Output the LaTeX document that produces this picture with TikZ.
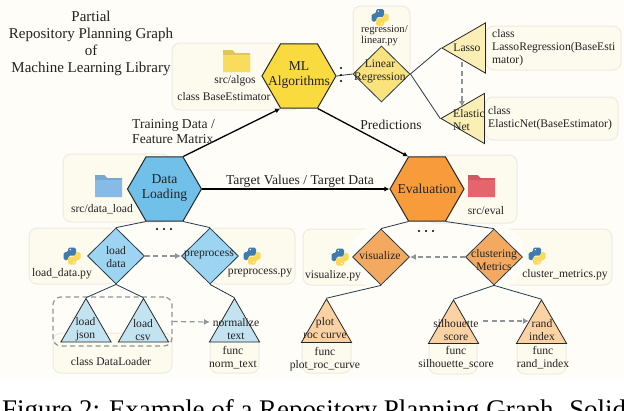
\documentclass[tikz,border=0pt]{standalone}
\usepackage{fontspec}
\setmainfont{Liberation Serif}
\usepackage{xcolor}
\definecolor{pageCream}{HTML}{FFFDF8}
\definecolor{panelFill}{HTML}{FDFAEE}
\definecolor{panelLine}{HTML}{EDEAE2}
\definecolor{edgeDark}{HTML}{24394A}
\definecolor{dashGray}{HTML}{8E9599}
\definecolor{textDark}{HTML}{222222}
\definecolor{hexYellow}{HTML}{F9DB3F}
\definecolor{dmYellow}{HTML}{FAE27C}
\definecolor{triYellow}{HTML}{FBEFB6}
\definecolor{hexBlue}{HTML}{70C0E9}
\definecolor{dmBlue}{HTML}{9DD4F1}
\definecolor{triBlue}{HTML}{C4E3F1}
\definecolor{hexOrange}{HTML}{F89B3A}
\definecolor{dmOrange}{HTML}{F4A960}
\definecolor{triOrange}{HTML}{FBD2A3}
\definecolor{folderYellow}{HTML}{F9DC5C}
\definecolor{folderBlue}{HTML}{85BBE6}
\definecolor{folderRed}{HTML}{E4656C}
\definecolor{pyBlue}{HTML}{3E7BAE}
\definecolor{pyYellow}{HTML}{FBD95A}
\usepackage{tikz}
\usetikzlibrary{arrows.meta,shapes.geometric}
\tikzset{
  panel/.style={draw=panelLine, line width=1pt, fill=panelFill, rounded corners=8pt, inner sep=0pt},
  hexnode/.style={regular polygon, regular polygon sides=6, minimum size=74pt, inner sep=0pt, draw=black!85, line width=1pt},
  dmnode/.style={diamond, minimum width=57pt, minimum height=56pt, inner sep=0pt, draw=edgeDark, line width=.8pt},
  trinode/.style={regular polygon, regular polygon sides=3, minimum size=58pt, inner sep=0pt, draw=black!85, line width=.8pt},
  txt/.style={font=\fontsize{11.6}{13}\selectfont, inner sep=0pt, text=textDark, align=center},
  txtbig/.style={font=\fontsize{13.6}{15}\selectfont, inner sep=0pt, text=textDark, align=center},
  txtsmall/.style={font=\fontsize{10.6}{11}\selectfont, inner sep=0pt, text=textDark, align=left},
  mainarrow/.style={-{Latex[length=5pt,width=5pt]}, line width=1.3pt, black},
  treeedge/.style={line width=.8pt, edgeDark},
  dashedarrow/.style={-{Latex[length=6pt,width=6pt]}, line width=1.2pt, dashGray, dash pattern=on 5pt off 3.5pt},
  pics/folder/.style={code={
    \fill[#1!90!black] (-13.5,-11) -- (-4,-11) -- (-1,-8) -- (13.5,-8) -- (13.5,11) -- (-13.5,11) -- cycle;
    \fill[#1] (-13.5,-6) -- (13.5,-6) -- (13.5,11) -- (-13.5,11) -- cycle;
  }},
  pics/pyicon/.style={code={
    \fill[pyBlue, rounded corners=1.6pt] (-4,-8.5) -- (4,-8.5) -- (4,-.5) -- (-3.5,-.5) -- (-3.5,4) -- (-8.5,4) -- (-8.5,-3.8) -- (-4,-3.8) -- cycle;
    \fill[pyYellow, rounded corners=1.6pt] (4,8.5) -- (-4,8.5) -- (-4,.5) -- (3.5,.5) -- (3.5,-4) -- (8.5,-4) -- (8.5,3.8) -- (4,3.8) -- cycle;
    \fill[white] (-1.8,-6.4) circle (.8pt);
    \fill[white] (1.8,6.4) circle (.8pt);
  }}
}

\begin{document}
\begin{tikzpicture}[x=1pt, y=-1pt]
  \useasboundingbox (0,0) rectangle (624,410);
  \fill[white] (0,0) rectangle (624,410);
  \fill[pageCream] (0,0) rectangle (624,379);

  % Panels
  \node[panel, minimum width=128pt, minimum height=67pt] (pnlAlgos) at (236,76.5) {};
  \node[panel, minimum width=107pt, minimum height=68pt] (pnlLoad) at (116.5,188) {};
  \node[panel, minimum width=90pt, minimum height=68pt] (pnlEval) at (472,189) {};
  \node[panel, minimum width=57pt, minimum height=70pt] (pnlLinear) at (381.5,41) {};
  \node[panel, minimum width=135pt, minimum height=44pt] (pnlLasso) at (553.5,48) {};
  \node[panel, minimum width=133pt, minimum height=43pt] (pnlElastic) at (551.5,118.5) {};
  \node[panel, minimum width=87pt, minimum height=56pt] (pnlLoadData) at (72.5,256) {};
  \node[panel, minimum width=85pt, minimum height=56pt] (pnlPreprocess) at (252.5,256) {};
  \node[panel, minimum width=78pt, minimum height=56pt] (pnlVisualize) at (342,257) {};
  \node[panel, minimum width=118pt, minimum height=56pt] (pnlCluster) at (553,257) {};
  \node[panel, minimum width=119pt, minimum height=40pt] (pnlLoader) at (112.5,353) {};
  \node[panel, minimum width=49pt, minimum height=36pt] (pnlNorm) at (234.5,355) {};
  \node[panel, minimum width=49pt, minimum height=36pt] (pnlRoc) at (326.5,355) {};
  \node[panel, minimum width=48pt, minimum height=36pt] (pnlSil) at (453,356) {};
  \node[panel, minimum width=49pt, minimum height=36pt] (pnlRand) at (541.5,356) {};
  \fill[pageCream] (381,257) circle (32);
  \fill[pageCream] (494,257) circle (32);

  % Hexagons
  \node[hexnode, fill=hexYellow] (hexAlgos) at (299,76) {};
  \node[hexnode, fill=hexBlue] (hexLoad) at (164.5,189) {};
  \node[hexnode, fill=hexOrange] (hexEval) at (427,189) {};

  % Diamonds
  \node[dmnode, fill=dmYellow] (dmLinear) at (381.5,74) {};
  \node[dmnode, fill=dmBlue] (dmLoad) at (116,256) {};
  \node[dmnode, fill=dmBlue] (dmPre) at (210,256) {};
  \node[dmnode, fill=dmOrange] (dmVis) at (381,257) {};
  \node[dmnode, fill=dmOrange] (dmClu) at (494,257) {};

  % Triangles
  \node[trinode, fill=triYellow, shape border rotate=90] (triLasso) at (471,48) {};
  \node[trinode, fill=triYellow, shape border rotate=90] (triElastic) at (470,118.5) {};
  \node[trinode, fill=triBlue] (triJson) at (86,327.5) {};
  \node[trinode, fill=triBlue] (triCsv) at (143.5,327.5) {};
  \node[trinode, fill=triBlue] (triNorm) at (234.5,327.5) {};
  \node[trinode, fill=triOrange] (triRoc) at (326.5,328) {};
  \node[trinode, fill=triOrange] (triSil) at (453.5,329) {};
  \node[trinode, fill=triOrange] (triRand) at (541.5,329) {};

  % Dashed group box
  \node[draw=dashGray, line width=1.2pt, dash pattern=on 5pt off 3.5pt, rounded corners=8pt,
        minimum width=119pt, minimum height=49pt, inner sep=0pt] (boxLoader) at (112.5,321.5) {};

  % Main flow
  \draw[mainarrow] (hexLoad.corner 1) -- (hexAlgos.corner 4);
  \draw[mainarrow] (hexAlgos.corner 5) -- (hexEval.corner 2);
  \draw[mainarrow] (hexLoad.corner 6) -- (hexEval.corner 3);

  % Tree edges
  \draw[treeedge] (hexAlgos.corner 6) -- (dmLinear.west);
  \draw[treeedge] (dmLinear.east) -- (triLasso.corner 1);
  \draw[treeedge] (dmLinear.east) -- (triElastic.corner 1);
  \draw[treeedge] (hexLoad.corner 4) -- (dmLoad.north);
  \draw[treeedge] (hexLoad.corner 5) -- (dmPre.north);
  \draw[treeedge] (hexEval.corner 4) -- (dmVis.north);
  \draw[treeedge] (hexEval.corner 5) -- (dmClu.north);
  \draw[treeedge] (dmLoad.south) -- (triJson.corner 1);
  \draw[treeedge] (dmLoad.south) -- (triCsv.corner 1);
  \draw[treeedge] (dmPre.south) -- (triNorm.corner 1);
  \draw[treeedge] (dmVis.south) -- (triRoc.corner 1);
  \draw[treeedge] (dmClu.south) -- (triSil.corner 1);
  \draw[treeedge] (dmClu.south) -- (triRand.corner 1);

  % Dashed links
  \coordinate (lassoOut) at (462,62);
  \coordinate (elasticIn) at (462,107);
  \coordinate (silOut) at (483,321);
  \coordinate (randIn) at (529,321);
  \draw[dashedarrow] (lassoOut) -- (elasticIn);
  \draw[dashedarrow] (dmLoad.east) -- (dmPre.west);
  \draw[dashedarrow] (dmClu.west) -- (dmVis.east);
  \draw[dashedarrow] (boxLoader.east) -- (210,322);
  \draw[dashedarrow] (silOut) -- (randIn);

  % Continuation dots
  \foreach \y in {68,75,81} \fill (341,\y) circle (1.2pt);
  \foreach \x in {157,164,171} \fill (\x,229) circle (1.2pt);
  \foreach \x in {419,426,433} \fill (\x,231) circle (1.2pt);

  % Folders and python files
  \pic at (236.5,61) {folder=folderYellow};
  \pic at (108.5,186) {folder=folderBlue};
  \pic at (481.5,186) {folder=folderRed};
  \pic at (380,17.5) {pyicon};
  \pic at (72,256) {pyicon};
  \pic at (252,256) {pyicon};
  \pic at (340,257) {pyicon};
  \pic at (537,256) {pyicon};

  % Title
  \node[txtbig, font=\fontsize{15}{17}\selectfont] (title) at (91,43) {Partial\\Repository Planning Graph\\of\\Machine Learning Library};

  % Hexagon labels
  \node[txtbig] (txtAlgos) at (299,75) {ML\\Algorithms};
  \node[txtbig] (txtLoad) at (164.5,188) {Data\\Loading};
  \node[txtbig] (txtEval) at (427,189) {Evaluation};

  % Edge labels
  \node[txtbig, align=left, anchor=west] (lblTrain) at (132,132) {Training Data /\\Feature Matrix};
  \node[txtbig] (lblPred) at (391,125) {Predictions};
  \node[txtbig] (lblTarget) at (300,181) {Target Values / Target Data};

  % Panel labels
  \node[txt] (txtAlgosDir) at (235,81) {src/algos};
  \node[txt] (txtBase) at (224,97) {class BaseEstimator};
  \node[txt] (txtLoadDir) at (102,209) {src/data\_load};
  \node[txt] (txtEvalDir) at (486,211) {src/eval};
  \node[txtsmall, anchor=north west] (txtLinearFile) at (361,25) {regression/\\linear.py};
  \node[txt, align=left, anchor=west] (txtLassoCls) at (492,48) {class\\LassoRegression(BaseEsti\\mator)};
  \node[txt, align=left, anchor=west] (txtElasticCls) at (488,118.5) {class\\ElasticNet(BaseEstimator)};
  \node[txt] (txtLoadFile) at (62,274) {load\_data.py};
  \node[txt] (txtPreFile) at (260,273) {preprocess.py};
  \node[txt] (txtVisFile) at (333,276) {visualize.py};
  \node[txt] (txtCluFile) at (565,275) {cluster\_metrics.py};
  \node[txt] (txtLoader) at (111,362) {class DataLoader};
  \node[txt] (txtNormFn) at (233,358) {func\\norm\_text};
  \node[txt] (txtRocFn) at (325,359) {func\\plot\_roc\_curve};
  \node[txt] (txtSilFn) at (456,358) {func\\silhouette\_score};
  \node[txt] (txtRandFn) at (543,358) {func\\rand\_index};

  % Diamond labels
  \node[txt] (txtLinear) at (380,71.5) {Linear\\Regression};
  \node[txt] (txtDmLoad) at (116,257) {load\\data};
  \node[txt] (txtDmPre) at (209,255) {preprocess};
  \node[txt] (txtDmVis) at (380,256) {visualize};
  \node[txt] (txtDmClu) at (494,260) {clustering\\Metrics};

  % Triangle labels
  \node[txt] (txtLasso) at (467,47.5) {Lasso};
  \node[txt, align=left, anchor=west] (txtElastic) at (453,120.5) {Elastic\\Net};
  \node[txt] (txtTriJson) at (85.5,329) {load\\json};
  \node[txt] (txtTriCsv) at (143,330) {load\\csv};
  \node[txt] (txtTriNorm) at (236,329.5) {normalize\\text};
  \node[txt] (txtTriRoc) at (325,328) {plot\\roc curve};
  \node[txt] (txtTriSil) at (456,330) {silhouette\\score};
  \node[txt] (txtTriRand) at (542,330) {rand\\index};

  % Caption
  \node[inner sep=0pt, anchor=base west, font=\fontsize{26.9}{29}\selectfont, text=black] (caption) at (2,418.5) {Figure 2: Example of a Repository Planning Graph. Solid};
\end{tikzpicture}
\end{document}
